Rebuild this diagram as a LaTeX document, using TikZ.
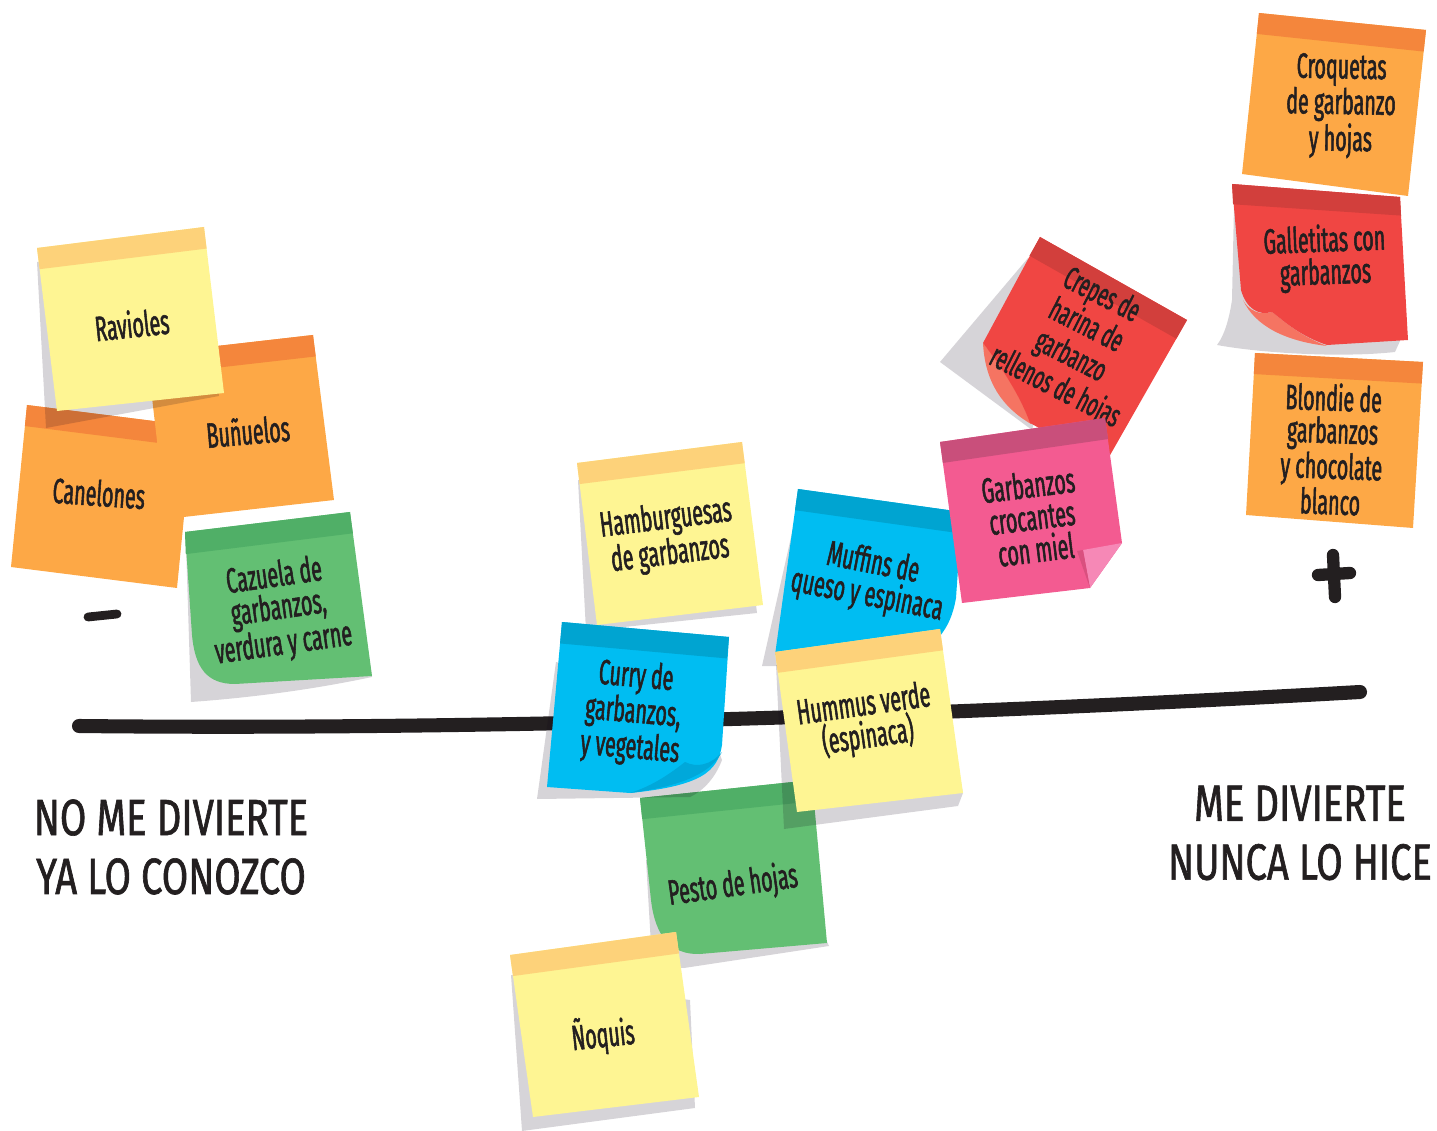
\documentclass[tikz,border=0pt]{standalone}
\usepackage{fontspec}
\usetikzlibrary{calc}
\newfontfamily\handfont[FakeStretch=0.56, FakeBold=1.5]{Fira Sans}
\newfontfamily\titlefont[FakeStretch=0.75, FakeBold=1.2]{Fira Sans}

\definecolor{ink}{HTML}{231F20}
\definecolor{shadowink}{RGB}{14,2,25}
\definecolor{yellowbody}{HTML}{FEF593}
\definecolor{yellowband}{HTML}{FDD27A}
\definecolor{orangebody}{HTML}{FDA846}
\definecolor{orangeband}{HTML}{F4863C}
\definecolor{greenbody}{HTML}{63BF73}
\definecolor{greenband}{HTML}{50AF67}
\definecolor{bluebody}{HTML}{00BDF2}
\definecolor{blueband}{HTML}{00A4D1}
\definecolor{bluefold}{HTML}{00A8DA}
\definecolor{redbody}{HTML}{F04643}
\definecolor{redband}{HTML}{D23F3C}
\definecolor{redfold}{HTML}{F57462}
\definecolor{pinkbody}{HTML}{F35B91}
\definecolor{pinkband}{HTML}{C94F7B}
\definecolor{pinkfold}{HTML}{F688B6}
\definecolor{pinkcrease}{HTML}{D9507F}

\newcommand{\band}[5]{\fill[#5] #1 -- #2 -- ($#2!0.13!#3$) -- ($#1!0.13!#4$) -- cycle;}
\newcommand{\postit}[6]{\fill[#5] #1 -- #2 -- #3 -- #4 -- cycle; \band{#1}{#2}{#3}{#4}{#6}}

\begin{document}
\begin{tikzpicture}[x=0.02cm, y=-0.02cm,
  memo/.style={font=\handfont\fontsize{20}{18.5}\selectfont, text=ink, align=center, inner sep=0pt},
  axislabel/.style={font=\titlefont\fontsize{29}{33.5}\selectfont, text=ink, align=center, inner sep=0pt},
  shade/.style={fill=shadowink, fill opacity=0.17},
  stroke/.style={draw=ink, line cap=round}]
\useasboundingbox (0,0) rectangle (1437,1131);

\coordinate (lo) at (79,726);
\coordinate (hi) at (1360,692);
\draw[stroke, line width=8pt] (lo) .. controls (450,730) and (900,718) .. (hi);
\draw[stroke, line width=5pt] (88,617) -- (117,614);
\draw[stroke, line width=7pt] (1318,575) -- (1350,573) (1333,555) -- (1335,597);

\node (nodivierte) [axislabel] at (171,847) {NO ME DIVIERTE\\YA LO CONOZCO};
\node (medivierte) [axislabel] at (1300,833) {ME DIVIERTE\\NUNCA LO HICE};

\postit{(27,405)}{(193,426)}{(177,588)}{(11,567)}{orangebody}{orangeband}
\node (canelones) [memo, rotate=-4] at (99,493) {Canelones};

\postit{(147,354)}{(313,335)}{(334,500)}{(166,519)}{orangebody}{orangeband}
\node (bunuelos) [memo, rotate=5] at (248,431) {Buñuelos};

\fill[shade] (37,262) -- (46,428) -- (219,396) -- (205,250) -- cycle;
\postit{(37,248)}{(204,227)}{(224,393)}{(57,411)}{yellowbody}{yellowband}
\node (ravioles) [memo, rotate=6] at (132,324) {Ravioles};

\fill[shade] (186,545) -- (191,702) .. controls (260,697) and (320,688) .. (372,677) -- (355,560) -- cycle;
\fill[greenbody] (185,532) -- (350,512) -- (372,676) -- (235,684) .. controls (207,684) and (195,668) .. (192,635) -- cycle;
\band{(185,532)}{(350,512)}{(372,676)}{(191,702)}{greenband}
\node (cazuela) [memo, rotate=8] at (279,611) {Cazuela de\\garbanzos,\\verdura y carne};

\fill[shade] (578,480) -- (586,631) -- (757,613) -- (740,470) -- cycle;
\postit{(577,463)}{(742,442)}{(763,605)}{(597,625)}{yellowbody}{yellowband}
\node (hamburguesas) [memo, rotate=7] at (668,537) {Hamburguesas\\de garbanzos};

\fill[shade] (646,860) -- (652,962) .. controls (665,966) and (675,968) .. (684,968) -- (829,946) -- (800,880) -- cycle;
\fill[greenbody] (640,798) -- (812,780) -- (827,943) -- (700,954) .. controls (670,955) and (655,935) .. (651,900) -- cycle;
\band{(640,798)}{(812,780)}{(827,943)}{(657,961)}{greenband}
\node (pesto) [memo, rotate=8] at (733,886) {Pesto de hojas};

\fill[shade] (556,662) -- (537,799) -- (690,797) .. controls (705,790) and (716,776) .. (722,760) -- (700,700) -- cycle;
\fill[bluebody] (562,622) -- (729,637) -- (722,745) .. controls (718,772) and (700,786) .. (630,793) -- (547,787) -- cycle;
\band{(562,622)}{(729,637)}{(714,802)}{(547,787)}{blueband}
\fill[bluefold] (722,752) .. controls (712,770) and (690,785) .. (630,793) .. controls (655,785) and (672,772) .. (685,762) .. controls (697,768) and (711,765) .. (722,752) -- cycle;
\node (curry) [memo, rotate=-5] at (633,713) {Curry de\\garbanzos,\\y vegetales};

\fill[shade] (511,975) -- (522,1131) -- (695,1108) -- (690,1000) -- cycle;
\postit{(510,955)}{(676,932)}{(699,1097)}{(533,1117)}{yellowbody}{yellowband}
\node (noquis) [memo, rotate=6] at (603,1035) {Ñoquis};

\fill[shade] (1028,258) -- (940,362) -- (1032,430) -- (1060,330) -- cycle;
\fill[redfold] (983,343) .. controls (985,382) and (1002,407) .. (1031,424) .. controls (1020,395) and (1002,366) .. (983,343) -- cycle;
\fill[redbody] (1040,237) -- (1187,320) -- (1105,464) -- (1030,423) .. controls (1020,395) and (1000,365) .. (983,343) -- cycle;
\band{(1040,237)}{(1187,320)}{(1105,464)}{(959,381)}{redband}
\node (crepes) [memo, rotate=-27, font=\handfont\fontsize{18.5}{19.5}\selectfont] at (1078,342) {Crepes de\\harina de\\garbanzo\\rellenos de hojas};

\fill[shade] (796,515) -- (762,666) -- (790,666) -- cycle;
\fill[bluebody] (798,489) -- (962,512) -- (956,598) .. controls (953,615) and (948,626) .. (940,636) -- (775,655) -- cycle;
\band{(798,489)}{(962,512)}{(938,675)}{(775,652)}{blueband}
\node (muffins) [memo, rotate=-11] at (870,580) {Muffins de\\queso y espinaca};

\fill[shade] (776,665) -- (784,829) -- (958,806) -- (963,793) -- (945,700) -- cycle;
\postit{(775,652)}{(940,629)}{(963,793)}{(797,812)}{yellowbody}{yellowband}
\node (hummus) [memo, rotate=8] at (866,722) {Hummus verde\\(espinaca)};

\fill[pinkbody] (940,442) -- (1105,418) -- (1122,543) -- (1090,588) -- (962,603) -- cycle;
\band{(940,442)}{(1105,418)}{(1129,580)}{(962,603)}{pinkband}
\fill[pinkfold] (1122,543) -- (1083,550) -- (1090,588) -- cycle;
\fill[pinkcrease] (1077,551) -- (1083,550) -- (1090,588) -- cycle;
\node (crocantes) [memo, rotate=7] at (1032,517) {Garbanzos\\crocantes\\con miel};

\fill[shade] (1234,205) -- (1232,300) .. controls (1229,320) and (1224,336) .. (1217,345) .. controls (1260,353) and (1340,358) .. (1395,352) -- (1405,330) -- cycle;
\fill[redfold] (1243,300) .. controls (1255,326) and (1285,341) .. (1327,346) .. controls (1300,336) and (1285,322) .. (1272,312) .. controls (1260,316) and (1248,310) .. (1243,300) -- cycle;
\fill[redbody] (1232,184) -- (1400,197) -- (1408,340) -- (1327,345) .. controls (1300,336) and (1285,322) .. (1272,312) .. controls (1258,316) and (1246,308) .. (1241,290) -- cycle;
\band{(1232,184)}{(1400,197)}{(1408,340)}{(1240,340)}{redband}
\node (galletitas) [memo, rotate=2] at (1325,258) {Galletitas con\\garbanzos};

\postit{(1259,13)}{(1426,30)}{(1408,196)}{(1242,174)}{orangebody}{orangeband}
\node (croquetas) [memo, rotate=-1] at (1341,106) {Croquetas\\de garbanzo\\y hojas};

\postit{(1255,353)}{(1423,362)}{(1413,528)}{(1246,515)}{orangebody}{orangeband}
\node (blondie) [memo, rotate=-2] at (1332,449) {Blondie de\\garbanzos\\y chocolate\\blanco};
\end{tikzpicture}
\end{document}
